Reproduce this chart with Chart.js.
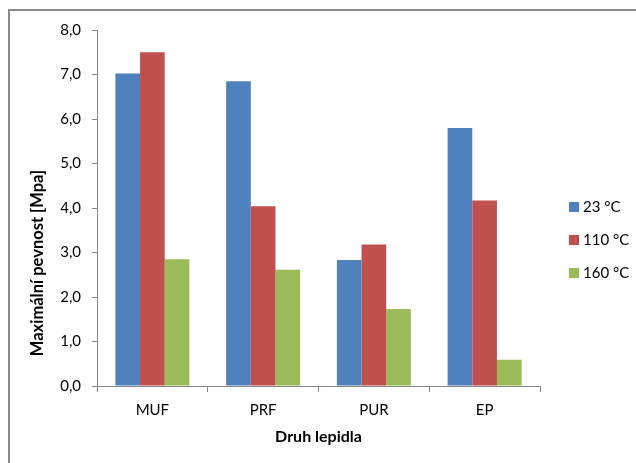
<!DOCTYPE html>
<html>
<head>
<meta charset="utf-8">
<script src="https://cdn.jsdelivr.net/npm/chart.js@4/dist/chart.umd.min.js"></script>
<style>
  html, body { margin: 0; padding: 0; background: #fff; }
  #wrap { position: relative; width: 636px; height: 463px; }
  #frame { position: absolute; left: 8px; top: 9px; width: 700px; height: 500px;
           border-left: 2px solid #8a8a8a; border-top: 2px solid #8a8a8a; box-sizing: border-box; }
  canvas { position: absolute; left: 0; top: 0; }
</style>
</head>
<body>
<div id="wrap">
  <div id="frame"></div>
  <canvas id="c" width="636" height="463"></canvas>
</div>
<script>
const categories = ["MUF", "PRF", "PUR", "EP"];
const seriesLabels = ["23 °C", "110 °C", "160 °C"];
const values23 = [7.02, 6.85, 2.83, 5.80];
const values110 = [7.50, 4.04, 3.18, 4.17];
const values160 = [2.85, 2.61, 1.73, 0.59];
const yTitle = "Maximální pevnost [Mpa]";
const xTitle = "Druh lepidla";

const colors = ["#4F81BD", "#C0504D", "#9BBB59"];
const FONT = "Lato, 'Open Sans', sans-serif";

const sidePlugin = {
  id: 'sideLegend',
  afterDraw(chart) {
    const ctx = chart.ctx;
    const x0 = chart.chartArea.right + 29;
    const yMid = 240;
    const gap = 33;
    ctx.save();
    ctx.font = "15px " + FONT;
    ctx.textBaseline = 'middle';
    ctx.textAlign = 'left';
    chart.data.datasets.forEach((ds, i) => {
      const y = yMid + (i - 1) * gap;
      ctx.fillStyle = ds.backgroundColor;
      ctx.fillRect(x0, y - 5, 10, 10);
      ctx.fillStyle = '#000';
      ctx.fillText(ds.label, x0 + 14, y);
    });
    // y axis title
    ctx.translate(38, 263);
    ctx.rotate(-Math.PI / 2);
    ctx.font = "bold 16.5px " + FONT;
    ctx.textAlign = 'center';
    ctx.fillText(yTitle, 0, 0);
    ctx.restore();
  }
};

new Chart(document.getElementById('c'), {
  type: 'bar',
  data: {
    labels: categories,
    datasets: [
      { label: seriesLabels[0], data: values23, backgroundColor: colors[0] },
      { label: seriesLabels[1], data: values110, backgroundColor: colors[1] },
      { label: seriesLabels[2], data: values160, backgroundColor: colors[2] }
    ]
  },
  options: {
    responsive: false,
    animation: false,
    devicePixelRatio: 1,
    layout: { padding: { left: 0, top: 30, right: 96, bottom: 0 } },
    datasets: { bar: { categoryPercentage: 0.668, barPercentage: 1.0 } },
    plugins: { legend: { display: false }, tooltip: { enabled: false } },
    scales: {
      x: {
        offset: true,
        grid: { display: true, drawOnChartArea: false, offset: true, color: '#868686', tickLength: 6 },
        border: { display: true, color: '#868686' },
        ticks: { color: '#000', padding: 9, font: { family: FONT, size: 15 } },
        title: { display: true, text: xTitle, color: '#000', padding: { top: 0, bottom: 17 },
                 font: { family: FONT, size: 16, weight: 'bold' } },
        afterFit(s) { s.height = 77; }
      },
      y: {
        min: 0, max: 8,
        ticks: { stepSize: 1, color: '#000', padding: 11, font: { family: FONT, size: 15 },
                 callback: v => v.toFixed(1).replace('.', ',') },
        grid: { display: true, drawOnChartArea: false, color: '#868686', tickLength: 5 },
        border: { display: true, color: '#868686' },
        title: { display: false },
        afterFit(s) { s.width = 97; }
      }
    }
  },
  plugins: [sidePlugin]
});
</script>
</body>
</html>
